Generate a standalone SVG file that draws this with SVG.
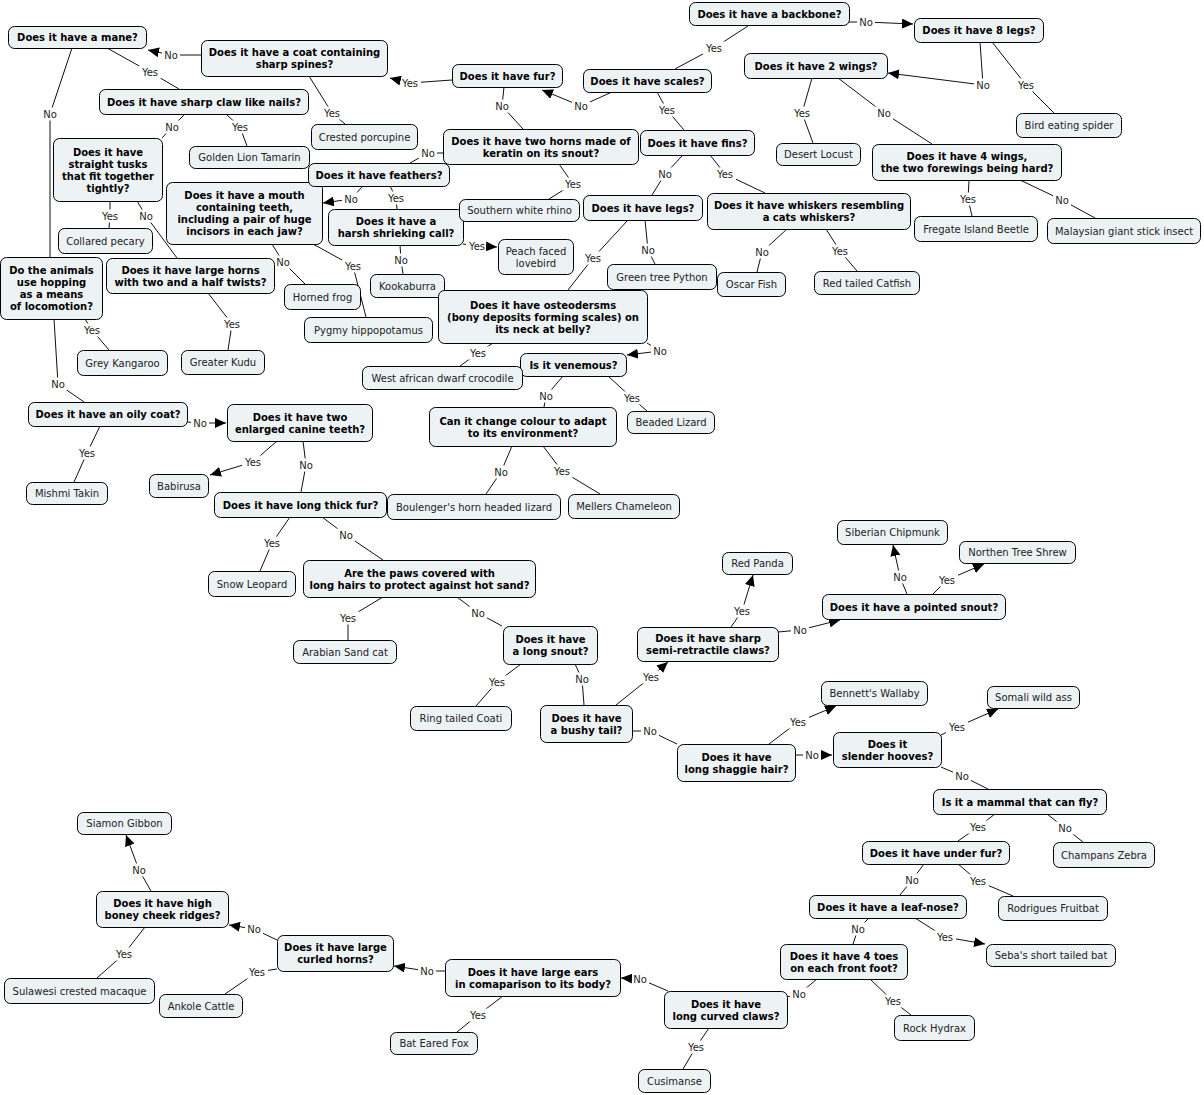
<svg xmlns="http://www.w3.org/2000/svg" width="1204" height="1095" viewBox="0 0 1204 1095">
<style>
.n rect{fill:#edf2f5;stroke:#000;stroke-width:1}
.n text{font-family:"DejaVu Sans",Verdana,sans-serif;font-size:10px;text-anchor:middle;fill:#000}
.q text{font-weight:bold}
.a text{fill:#222}
.c path.l{fill:none;stroke:#111;stroke-width:1}
.c path.h{fill:none;stroke:none}
.c rect{fill:#fff}
.c text{font-family:"DejaVu Sans",Verdana,sans-serif;font-size:10px;text-anchor:middle;fill:#222}
</style>
<defs>
<marker id="arr" viewBox="0 0 11 10" refX="11" refY="5" markerWidth="11" markerHeight="10" markerUnits="userSpaceOnUse" orient="auto"><path d="M0,0 L11,5 L0,10 z" fill="#000"/></marker>
</defs>
<rect width="1204" height="1095" fill="#fff"/>
<g id="connectors">
<g class="c"><path class="l" d="M849,22 L866,22 L913,24"/><rect x="857" y="15.5" width="18" height="13"/><text x="866" y="25.5">No</text><path class="h" d="M866,22 L913,24" marker-end="url(#arr)"/></g>
<g class="c"><path class="l" d="M748,26 L714,48 L675,69"/><rect x="703" y="41.5" width="22" height="13"/><text x="714" y="51.5">Yes</text></g>
<g class="c"><path class="l" d="M980,42 L983,85 L888,73"/><rect x="974" y="78.5" width="18" height="13"/><text x="983" y="88.5">No</text><path class="h" d="M983,85 L888,73" marker-end="url(#arr)"/></g>
<g class="c"><path class="l" d="M992,42 L1026,85 L1054,113"/><rect x="1015" y="78.5" width="22" height="13"/><text x="1026" y="88.5">Yes</text></g>
<g class="c"><path class="l" d="M812,78 L802,113 L813,143"/><rect x="791" y="106.5" width="22" height="13"/><text x="802" y="116.5">Yes</text></g>
<g class="c"><path class="l" d="M838,78 L884,113 L932,144"/><rect x="875" y="106.5" width="18" height="13"/><text x="884" y="116.5">No</text></g>
<g class="c"><path class="l" d="M969,180 L968,199 L972,216"/><rect x="957" y="192.5" width="22" height="13"/><text x="968" y="202.5">Yes</text></g>
<g class="c"><path class="l" d="M1020,180 L1062,200 L1095,218"/><rect x="1053" y="193.5" width="18" height="13"/><text x="1062" y="203.5">No</text></g>
<g class="c"><path class="l" d="M612,92 L581,106 L542,90"/><rect x="572" y="99.5" width="18" height="13"/><text x="581" y="109.5">No</text><path class="h" d="M581,106 L542,90" marker-end="url(#arr)"/></g>
<g class="c"><path class="l" d="M452,80 L410,83 L390,78"/><rect x="399" y="76.5" width="22" height="13"/><text x="410" y="86.5">Yes</text><path class="h" d="M410,83 L390,78" marker-end="url(#arr)"/></g>
<g class="c"><path class="l" d="M504,87 L502,106 L523,129"/><rect x="493" y="99.5" width="18" height="13"/><text x="502" y="109.5">No</text></g>
<g class="c"><path class="l" d="M443,153 L428,153 L410,163"/><rect x="419" y="146.5" width="18" height="13"/><text x="428" y="156.5">No</text></g>
<g class="c"><path class="l" d="M559,164 L573,184 L549,199"/><rect x="562" y="177.5" width="22" height="13"/><text x="573" y="187.5">Yes</text></g>
<g class="c"><path class="l" d="M201,55 L171,55 L148,50"/><rect x="162" y="48.5" width="18" height="13"/><text x="171" y="58.5">No</text><path class="h" d="M171,55 L148,50" marker-end="url(#arr)"/></g>
<g class="c"><path class="l" d="M309,76 L332,113 L345,124"/><rect x="321" y="106.5" width="22" height="13"/><text x="332" y="116.5">Yes</text></g>
<g class="c"><path class="l" d="M107,48 L150,72 L179,89"/><rect x="139" y="65.5" width="22" height="13"/><text x="150" y="75.5">Yes</text></g>
<g class="c"><path class="l" d="M72,48 L50,114 L50,257"/><rect x="41" y="107.5" width="18" height="13"/><text x="50" y="117.5">No</text></g>
<g class="c"><path class="l" d="M185,114 L172,127 L162,138"/><rect x="163" y="120.5" width="18" height="13"/><text x="172" y="130.5">No</text></g>
<g class="c"><path class="l" d="M226,114 L240,127 L247,146"/><rect x="229" y="120.5" width="22" height="13"/><text x="240" y="130.5">Yes</text></g>
<g class="c"><path class="l" d="M110,201 L110,216 L109,228"/><rect x="99" y="209.5" width="22" height="13"/><text x="110" y="219.5">Yes</text></g>
<g class="c"><path class="l" d="M137,201 L146,216 L177,258"/><rect x="137" y="209.5" width="18" height="13"/><text x="146" y="219.5">No</text></g>
<g class="c"><path class="l" d="M208,293 L232,324 L228,350"/><rect x="221" y="317.5" width="22" height="13"/><text x="232" y="327.5">Yes</text></g>
<g class="c"><path class="l" d="M85,319 L92,330 L109,350"/><rect x="81" y="323.5" width="22" height="13"/><text x="92" y="333.5">Yes</text></g>
<g class="c"><path class="l" d="M54,319 L58,384 L84,402"/><rect x="49" y="377.5" width="18" height="13"/><text x="58" y="387.5">No</text></g>
<g class="c"><path class="l" d="M187,422 L200,423 L226,423"/><rect x="191" y="416.5" width="18" height="13"/><text x="200" y="426.5">No</text><path class="h" d="M200,423 L226,423" marker-end="url(#arr)"/></g>
<g class="c"><path class="l" d="M100,426 L87,453 L74,482"/><rect x="76" y="446.5" width="22" height="13"/><text x="87" y="456.5">Yes</text></g>
<g class="c"><path class="l" d="M277,441 L253,462 L210,475"/><rect x="242" y="455.5" width="22" height="13"/><text x="253" y="465.5">Yes</text><path class="h" d="M253,462 L210,475" marker-end="url(#arr)"/></g>
<g class="c"><path class="l" d="M303,441 L306,465 L301,492"/><rect x="297" y="458.5" width="18" height="13"/><text x="306" y="468.5">No</text></g>
<g class="c"><path class="l" d="M290,517 L272,543 L260,571"/><rect x="261" y="536.5" width="22" height="13"/><text x="272" y="546.5">Yes</text></g>
<g class="c"><path class="l" d="M322,517 L346,535 L383,560"/><rect x="337" y="528.5" width="18" height="13"/><text x="346" y="538.5">No</text></g>
<g class="c"><path class="l" d="M383,597 L348,618 L348,640"/><rect x="337" y="611.5" width="22" height="13"/><text x="348" y="621.5">Yes</text></g>
<g class="c"><path class="l" d="M457,597 L478,613 L502,626"/><rect x="469" y="606.5" width="18" height="13"/><text x="478" y="616.5">No</text></g>
<g class="c"><path class="l" d="M521,664 L497,682 L476,706"/><rect x="486" y="675.5" width="22" height="13"/><text x="497" y="685.5">Yes</text></g>
<g class="c"><path class="l" d="M575,664 L582,679 L584,705"/><rect x="573" y="672.5" width="18" height="13"/><text x="582" y="682.5">No</text></g>
<g class="c"><path class="l" d="M616,705 L651,677 L668,662"/><rect x="640" y="670.5" width="22" height="13"/><text x="651" y="680.5">Yes</text><path class="h" d="M651,677 L668,662" marker-end="url(#arr)"/></g>
<g class="c"><path class="l" d="M632,731 L650,731 L677,744"/><rect x="641" y="724.5" width="18" height="13"/><text x="650" y="734.5">No</text></g>
<g class="c"><path class="l" d="M731,627 L742,611 L753,575"/><rect x="731" y="604.5" width="22" height="13"/><text x="742" y="614.5">Yes</text><path class="h" d="M742,611 L753,575" marker-end="url(#arr)"/></g>
<g class="c"><path class="l" d="M778,632 L800,630 L840,620"/><rect x="791" y="623.5" width="18" height="13"/><text x="800" y="633.5">No</text><path class="h" d="M800,630 L840,620" marker-end="url(#arr)"/></g>
<g class="c"><path class="l" d="M907,594 L900,577 L893,545"/><rect x="891" y="570.5" width="18" height="13"/><text x="900" y="580.5">No</text><path class="h" d="M900,577 L893,545" marker-end="url(#arr)"/></g>
<g class="c"><path class="l" d="M933,594 L947,580 L984,564"/><rect x="936" y="573.5" width="22" height="13"/><text x="947" y="583.5">Yes</text><path class="h" d="M947,580 L984,564" marker-end="url(#arr)"/></g>
<g class="c"><path class="l" d="M769,744 L798,722 L836,706"/><rect x="787" y="715.5" width="22" height="13"/><text x="798" y="725.5">Yes</text><path class="h" d="M798,722 L836,706" marker-end="url(#arr)"/></g>
<g class="c"><path class="l" d="M795,755 L812,755 L832,755"/><rect x="803" y="748.5" width="18" height="13"/><text x="812" y="758.5">No</text><path class="h" d="M812,755 L832,755" marker-end="url(#arr)"/></g>
<g class="c"><path class="l" d="M941,735 L957,727 L998,709"/><rect x="946" y="720.5" width="22" height="13"/><text x="957" y="730.5">Yes</text><path class="h" d="M957,727 L998,709" marker-end="url(#arr)"/></g>
<g class="c"><path class="l" d="M941,767 L962,776 L988,789"/><rect x="953" y="769.5" width="18" height="13"/><text x="962" y="779.5">No</text></g>
<g class="c"><path class="l" d="M995,814 L978,827 L958,841"/><rect x="967" y="820.5" width="22" height="13"/><text x="978" y="830.5">Yes</text></g>
<g class="c"><path class="l" d="M1047,814 L1065,828 L1083,842"/><rect x="1056" y="821.5" width="18" height="13"/><text x="1065" y="831.5">No</text></g>
<g class="c"><path class="l" d="M924,864 L912,880 L900,895"/><rect x="903" y="873.5" width="18" height="13"/><text x="912" y="883.5">No</text></g>
<g class="c"><path class="l" d="M958,864 L978,881 L1013,896"/><rect x="967" y="874.5" width="22" height="13"/><text x="978" y="884.5">Yes</text></g>
<g class="c"><path class="l" d="M915,918 L945,937 L985,944"/><rect x="934" y="930.5" width="22" height="13"/><text x="945" y="940.5">Yes</text><path class="h" d="M945,937 L985,944" marker-end="url(#arr)"/></g>
<g class="c"><path class="l" d="M869,918 L858,929 L853,944"/><rect x="849" y="922.5" width="18" height="13"/><text x="858" y="932.5">No</text></g>
<g class="c"><path class="l" d="M870,979 L893,1001 L911,1015"/><rect x="882" y="994.5" width="22" height="13"/><text x="893" y="1004.5">Yes</text></g>
<g class="c"><path class="l" d="M817,979 L799,994 L787,997"/><rect x="790" y="987.5" width="18" height="13"/><text x="799" y="997.5">No</text></g>
<g class="c"><path class="l" d="M668,991 L640,979 L621,978"/><rect x="631" y="972.5" width="18" height="13"/><text x="640" y="982.5">No</text><path class="h" d="M640,979 L621,978" marker-end="url(#arr)"/></g>
<g class="c"><path class="l" d="M709,1028 L696,1047 L683,1069"/><rect x="685" y="1040.5" width="22" height="13"/><text x="696" y="1050.5">Yes</text></g>
<g class="c"><path class="l" d="M445,971 L427,971 L394,966"/><rect x="418" y="964.5" width="18" height="13"/><text x="427" y="974.5">No</text><path class="h" d="M427,971 L394,966" marker-end="url(#arr)"/></g>
<g class="c"><path class="l" d="M503,996 L478,1015 L457,1032"/><rect x="467" y="1008.5" width="22" height="13"/><text x="478" y="1018.5">Yes</text></g>
<g class="c"><path class="l" d="M277,940 L254,929 L229,925"/><rect x="245" y="922.5" width="18" height="13"/><text x="254" y="932.5">No</text><path class="h" d="M254,929 L229,925" marker-end="url(#arr)"/></g>
<g class="c"><path class="l" d="M277,969 L257,972 L225,994"/><rect x="246" y="965.5" width="22" height="13"/><text x="257" y="975.5">Yes</text></g>
<g class="c"><path class="l" d="M151,891 L139,870 L126,835"/><rect x="130" y="863.5" width="18" height="13"/><text x="139" y="873.5">No</text><path class="h" d="M139,870 L126,835" marker-end="url(#arr)"/></g>
<g class="c"><path class="l" d="M145,927 L124,954 L97,978"/><rect x="113" y="947.5" width="22" height="13"/><text x="124" y="957.5">Yes</text></g>
<g class="c"><path class="l" d="M363,186 L351,199 L323,203"/><rect x="342" y="192.5" width="18" height="13"/><text x="351" y="202.5">No</text><path class="h" d="M351,199 L323,203" marker-end="url(#arr)"/></g>
<g class="c"><path class="l" d="M390,186 L396,198 L397,209"/><rect x="385" y="191.5" width="22" height="13"/><text x="396" y="201.5">Yes</text></g>
<g class="c"><path class="l" d="M463,244 L477,246 L497,247"/><rect x="466" y="239.5" width="22" height="13"/><text x="477" y="249.5">Yes</text><path class="h" d="M477,246 L497,247" marker-end="url(#arr)"/></g>
<g class="c"><path class="l" d="M400,245 L401,260 L403,274"/><rect x="392" y="253.5" width="18" height="13"/><text x="401" y="263.5">No</text></g>
<g class="c"><path class="l" d="M272,244 L283,262 L305,284"/><rect x="274" y="255.5" width="18" height="13"/><text x="283" y="265.5">No</text></g>
<g class="c"><path class="l" d="M313,244 L353,266 L366,317"/><rect x="342" y="259.5" width="22" height="13"/><text x="353" y="269.5">Yes</text></g>
<g class="c"><path class="l" d="M628,220 L593,258 L568,290"/><rect x="582" y="251.5" width="22" height="13"/><text x="593" y="261.5">Yes</text></g>
<g class="c"><path class="l" d="M645,220 L648,250 L655,264"/><rect x="639" y="243.5" width="18" height="13"/><text x="648" y="253.5">No</text></g>
<g class="c"><path class="l" d="M683,155 L665,174 L652,195"/><rect x="656" y="167.5" width="18" height="13"/><text x="665" y="177.5">No</text></g>
<g class="c"><path class="l" d="M710,155 L725,174 L765,193"/><rect x="714" y="167.5" width="22" height="13"/><text x="725" y="177.5">Yes</text></g>
<g class="c"><path class="l" d="M787,229 L762,252 L757,272"/><rect x="753" y="245.5" width="18" height="13"/><text x="762" y="255.5">No</text></g>
<g class="c"><path class="l" d="M826,229 L840,251 L857,271"/><rect x="829" y="244.5" width="22" height="13"/><text x="840" y="254.5">Yes</text></g>
<g class="c"><path class="l" d="M657,92 L667,110 L684,130"/><rect x="656" y="103.5" width="22" height="13"/><text x="667" y="113.5">Yes</text></g>
<g class="c"><path class="l" d="M647,343 L660,351 L627,355"/><rect x="651" y="344.5" width="18" height="13"/><text x="660" y="354.5">No</text><path class="h" d="M660,351 L627,355" marker-end="url(#arr)"/></g>
<g class="c"><path class="l" d="M493,343 L478,353 L460,366"/><rect x="467" y="346.5" width="22" height="13"/><text x="478" y="356.5">Yes</text></g>
<g class="c"><path class="l" d="M563,376 L546,396 L544,407"/><rect x="537" y="389.5" width="18" height="13"/><text x="546" y="399.5">No</text></g>
<g class="c"><path class="l" d="M608,376 L632,398 L647,411"/><rect x="621" y="391.5" width="22" height="13"/><text x="632" y="401.5">Yes</text></g>
<g class="c"><path class="l" d="M512,446 L501,472 L486,494"/><rect x="492" y="465.5" width="18" height="13"/><text x="501" y="475.5">No</text></g>
<g class="c"><path class="l" d="M543,446 L562,471 L600,494"/><rect x="551" y="464.5" width="22" height="13"/><text x="562" y="474.5">Yes</text></g>
</g>
<g id="nodes">
<g id="n-backbone" class="n q"><rect x="689.5" y="2.5" width="160" height="23" rx="6"/><text x="769.5" y="17.6">Does it have a backbone?</text></g>
<g id="n-8legs" class="n q"><rect x="914.5" y="18.5" width="129" height="24" rx="6"/><text x="979" y="34.1">Does it have 8 legs?</text></g>
<g id="n-2wings" class="n q"><rect x="744.5" y="53.5" width="143" height="25" rx="6"/><text x="816" y="69.6">Does it have 2 wings?</text></g>
<g id="n-spider" class="n a"><rect x="1016.5" y="113.5" width="105" height="24" rx="6"/><text x="1069" y="129.1">Bird eating spider</text></g>
<g id="n-locust" class="n a"><rect x="776.5" y="143.5" width="84" height="22" rx="6"/><text x="818.5" y="158.1">Desert Locust</text></g>
<g id="n-4wings" class="n q"><rect x="872.5" y="144.5" width="189" height="36" rx="6"/><text x="967" y="160.1"><tspan x="967" y="160.1">Does it have 4 wings,</tspan><tspan x="967" y="172.1">the two forewings being hard?</tspan></text></g>
<g id="n-fregate" class="n a"><rect x="914.5" y="216.5" width="123" height="25" rx="6"/><text x="976" y="232.6">Fregate Island Beetle</text></g>
<g id="n-stick" class="n a"><rect x="1047.5" y="218.5" width="153" height="25" rx="6"/><text x="1124" y="234.6">Malaysian giant stick insect</text></g>
<g id="n-scales" class="n q"><rect x="583.5" y="69.5" width="128" height="23" rx="6"/><text x="647.5" y="84.6">Does it have scales?</text></g>
<g id="n-fur" class="n q"><rect x="452.5" y="64.5" width="110" height="23" rx="6"/><text x="507.5" y="79.6">Does it have fur?</text></g>
<g id="n-fins" class="n q"><rect x="640.5" y="130.5" width="114" height="25" rx="6"/><text x="697.5" y="146.6">Does it have fins?</text></g>
<g id="n-horns" class="n q"><rect x="443.5" y="129.5" width="195" height="35" rx="6"/><text x="541" y="144.6"><tspan x="541" y="144.6">Does it have two horns made of</tspan><tspan x="541" y="156.6">keratin on its snout?</tspan></text></g>
<g id="n-spines" class="n q"><rect x="201.5" y="40.5" width="186" height="36" rx="6"/><text x="294.5" y="56.1"><tspan x="294.5" y="56.1">Does it have a coat containing</tspan><tspan x="294.5" y="68.1">sharp spines?</tspan></text></g>
<g id="n-mane" class="n q"><rect x="8.5" y="26.5" width="138" height="22" rx="6"/><text x="77.5" y="41.1">Does it have a mane?</text></g>
<g id="n-claw" class="n q"><rect x="99.5" y="89.5" width="209" height="25" rx="6"/><text x="204" y="105.6">Does it have sharp claw like nails?</text></g>
<g id="n-porcupine" class="n a"><rect x="311.5" y="124.5" width="106" height="25" rx="6"/><text x="364.5" y="140.6">Crested porcupine</text></g>
<g id="n-tamarin" class="n a"><rect x="189.5" y="146.5" width="120" height="22" rx="6"/><text x="249.5" y="161.1">Golden Lion Tamarin</text></g>
<g id="n-tusks" class="n q"><rect x="53.5" y="138.5" width="109" height="63" rx="6"/><text x="108" y="155.6"><tspan x="108" y="155.6">Does it have</tspan><tspan x="108" y="167.6">straight tusks</tspan><tspan x="108" y="179.6">that fit together</tspan><tspan x="108" y="191.6">tightly?</tspan></text></g>
<g id="n-pecary" class="n a"><rect x="58.5" y="228.5" width="94" height="25" rx="6"/><text x="105.5" y="244.6">Collared pecary</text></g>
<g id="n-teeth" class="n q"><rect x="166.5" y="182.5" width="156" height="62" rx="6"/><text x="244.5" y="199.1"><tspan x="244.5" y="199.1">Does it have a mouth</tspan><tspan x="244.5" y="211.1">containing teeth,</tspan><tspan x="244.5" y="223.1">including a pair of huge</tspan><tspan x="244.5" y="235.1">incisors in each jaw?</tspan></text></g>
<g id="n-feathers" class="n q"><rect x="308.5" y="163.5" width="141" height="23" rx="6"/><text x="379" y="178.6">Does it have feathers?</text></g>
<g id="n-shriek" class="n q"><rect x="328.5" y="209.5" width="135" height="36" rx="6"/><text x="396" y="225.1"><tspan x="396" y="225.1">Does it have a</tspan><tspan x="396" y="237.1">harsh shrieking call?</tspan></text></g>
<g id="n-rhino" class="n a"><rect x="459.5" y="199.5" width="120" height="22" rx="6"/><text x="519.5" y="214.1">Southern white rhino</text></g>
<g id="n-lovebird" class="n a"><rect x="498.5" y="239.5" width="75" height="35" rx="6"/><text x="536" y="254.6"><tspan x="536" y="254.6">Peach faced</tspan><tspan x="536" y="266.6">lovebird</tspan></text></g>
<g id="n-kookaburra" class="n a"><rect x="370.5" y="274.5" width="74" height="23" rx="6"/><text x="407.5" y="289.6">Kookaburra</text></g>
<g id="n-frog" class="n a"><rect x="284.5" y="284.5" width="76" height="25" rx="6"/><text x="322.5" y="300.6">Horned frog</text></g>
<g id="n-hippo" class="n a"><rect x="304.5" y="317.5" width="128" height="25" rx="6"/><text x="368.5" y="333.6">Pygmy hippopotamus</text></g>
<g id="n-legs" class="n q"><rect x="583.5" y="195.5" width="119" height="25" rx="6"/><text x="643" y="211.6">Does it have legs?</text></g>
<g id="n-whiskers" class="n q"><rect x="707.5" y="193.5" width="203" height="36" rx="6"/><text x="809" y="209.1"><tspan x="809" y="209.1">Does it have whiskers resembling</tspan><tspan x="809" y="221.1">a cats whiskers?</tspan></text></g>
<g id="n-python" class="n a"><rect x="607.5" y="264.5" width="109" height="25" rx="6"/><text x="662" y="280.6">Green tree Python</text></g>
<g id="n-oscar" class="n a"><rect x="717.5" y="272.5" width="68" height="24" rx="6"/><text x="751.5" y="288.1">Oscar Fish</text></g>
<g id="n-catfish" class="n a"><rect x="814.5" y="271.5" width="105" height="23" rx="6"/><text x="867" y="286.6">Red tailed Catfish</text></g>
<g id="n-osteo" class="n q"><rect x="438.5" y="290.5" width="209" height="53" rx="6"/><text x="543" y="308.6"><tspan x="543" y="308.6">Does it have osteodersms</tspan><tspan x="543" y="320.6">(bony deposits forming scales) on</tspan><tspan x="543" y="332.6">its neck at belly?</tspan></text></g>
<g id="n-venom" class="n q"><rect x="520.5" y="353.5" width="106" height="23" rx="6"/><text x="573.5" y="368.6">Is it venemous?</text></g>
<g id="n-croc" class="n a"><rect x="362.5" y="366.5" width="160" height="23" rx="6"/><text x="442.5" y="381.6">West african dwarf crocodile</text></g>
<g id="n-beaded" class="n a"><rect x="627.5" y="411.5" width="87" height="22" rx="6"/><text x="671" y="426.1">Beaded Lizard</text></g>
<g id="n-colour" class="n q"><rect x="429.5" y="407.5" width="187" height="39" rx="6"/><text x="523" y="424.6"><tspan x="523" y="424.6">Can it change colour to adapt</tspan><tspan x="523" y="436.6">to its environment?</tspan></text></g>
<g id="n-boulenger" class="n a"><rect x="387.5" y="494.5" width="173" height="25" rx="6"/><text x="474" y="510.6">Boulenger's horn headed lizard</text></g>
<g id="n-mellers" class="n a"><rect x="568.5" y="494.5" width="111" height="24" rx="6"/><text x="624" y="510.1">Mellers Chameleon</text></g>
<g id="n-canine" class="n q"><rect x="227.5" y="404.5" width="145" height="37" rx="6"/><text x="300" y="420.6"><tspan x="300" y="420.6">Does it have two</tspan><tspan x="300" y="432.6">enlarged canine teeth?</tspan></text></g>
<g id="n-oily" class="n q"><rect x="28.5" y="402.5" width="159" height="24" rx="6"/><text x="108" y="418.1">Does it have an oily coat?</text></g>
<g id="n-hopping" class="n q"><rect x="0.5" y="257.5" width="102" height="62" rx="6"/><text x="51.5" y="274.1"><tspan x="51.5" y="274.1">Do the animals</tspan><tspan x="51.5" y="286.1">use hopping</tspan><tspan x="51.5" y="298.1">as a means</tspan><tspan x="51.5" y="310.1">of locomotion?</tspan></text></g>
<g id="n-twists" class="n q"><rect x="106.5" y="258.5" width="168" height="35" rx="6"/><text x="190.5" y="273.6"><tspan x="190.5" y="273.6">Does it have large horns</tspan><tspan x="190.5" y="285.6">with two and a half twists?</tspan></text></g>
<g id="n-kangaroo" class="n a"><rect x="77.5" y="350.5" width="90" height="25" rx="6"/><text x="122.5" y="366.6">Grey Kangaroo</text></g>
<g id="n-kudu" class="n a"><rect x="181.5" y="350.5" width="83" height="24" rx="6"/><text x="223" y="366.1">Greater Kudu</text></g>
<g id="n-takin" class="n a"><rect x="26.5" y="482.5" width="81" height="22" rx="6"/><text x="67" y="497.1">Mishmi Takin</text></g>
<g id="n-babirusa" class="n a"><rect x="149.5" y="474.5" width="59" height="23" rx="6"/><text x="179" y="489.6">Babirusa</text></g>
<g id="n-thickfur" class="n q"><rect x="214.5" y="492.5" width="172" height="25" rx="6"/><text x="300.5" y="508.6">Does it have long thick fur?</text></g>
<g id="n-leopard" class="n a"><rect x="208.5" y="571.5" width="87" height="25" rx="6"/><text x="252" y="587.6">Snow Leopard</text></g>
<g id="n-paws" class="n q"><rect x="303.5" y="560.5" width="232" height="37" rx="6"/><text x="419.5" y="576.6"><tspan x="419.5" y="576.6">Are the paws covered with</tspan><tspan x="419.5" y="588.6">long hairs to protect against hot sand?</tspan></text></g>
<g id="n-sandcat" class="n a"><rect x="293.5" y="640.5" width="103" height="23" rx="6"/><text x="345" y="655.6">Arabian Sand cat</text></g>
<g id="n-longsnout" class="n q"><rect x="503.5" y="626.5" width="94" height="38" rx="6"/><text x="550.5" y="643.1"><tspan x="550.5" y="643.1">Does it have</tspan><tspan x="550.5" y="655.1">a long snout?</tspan></text></g>
<g id="n-coati" class="n a"><rect x="410.5" y="706.5" width="101" height="24" rx="6"/><text x="461" y="722.1">Ring tailed Coati</text></g>
<g id="n-bushy" class="n q"><rect x="540.5" y="705.5" width="92" height="37" rx="6"/><text x="586.5" y="721.6"><tspan x="586.5" y="721.6">Does it have</tspan><tspan x="586.5" y="733.6">a bushy tail?</tspan></text></g>
<g id="n-semi" class="n q"><rect x="637.5" y="627.5" width="141" height="34" rx="6"/><text x="708" y="642.1"><tspan x="708" y="642.1">Does it have sharp</tspan><tspan x="708" y="654.1">semi-retractile claws?</tspan></text></g>
<g id="n-panda" class="n a"><rect x="722.5" y="552.5" width="70" height="22" rx="6"/><text x="757.5" y="567.1">Red Panda</text></g>
<g id="n-pointed" class="n q"><rect x="822.5" y="594.5" width="183" height="25" rx="6"/><text x="914" y="610.6">Does it have a pointed snout?</text></g>
<g id="n-chipmunk" class="n a"><rect x="837.5" y="520.5" width="110" height="24" rx="6"/><text x="892.5" y="536.1">Siberian Chipmunk</text></g>
<g id="n-shrew" class="n a"><rect x="959.5" y="541.5" width="116" height="22" rx="6"/><text x="1017.5" y="556.1">Northen Tree Shrew</text></g>
<g id="n-wallaby" class="n a"><rect x="821.5" y="681.5" width="106" height="24" rx="6"/><text x="874.5" y="697.1">Bennett's Wallaby</text></g>
<g id="n-ass" class="n a"><rect x="987.5" y="686.5" width="92" height="22" rx="6"/><text x="1033.5" y="701.1">Somali wild ass</text></g>
<g id="n-shaggie" class="n q"><rect x="677.5" y="744.5" width="118" height="37" rx="6"/><text x="736.5" y="760.6"><tspan x="736.5" y="760.6">Does it have</tspan><tspan x="736.5" y="772.6">long shaggie hair?</tspan></text></g>
<g id="n-hooves" class="n q"><rect x="833.5" y="732.5" width="108" height="35" rx="6"/><text x="887.5" y="747.6"><tspan x="887.5" y="747.6">Does it</tspan><tspan x="887.5" y="759.6">slender hooves?</tspan></text></g>
<g id="n-fly" class="n q"><rect x="933.5" y="789.5" width="173" height="25" rx="6"/><text x="1020" y="805.6">Is it a mammal that can fly?</text></g>
<g id="n-zebra" class="n a"><rect x="1053.5" y="842.5" width="101" height="25" rx="6"/><text x="1104" y="858.6">Champans Zebra</text></g>
<g id="n-underfur" class="n q"><rect x="862.5" y="841.5" width="147" height="23" rx="6"/><text x="936" y="856.6">Does it have under fur?</text></g>
<g id="n-fruitbat" class="n a"><rect x="998.5" y="896.5" width="109" height="24" rx="6"/><text x="1053" y="912.1">Rodrigues Fruitbat</text></g>
<g id="n-leafnose" class="n q"><rect x="809.5" y="895.5" width="157" height="23" rx="6"/><text x="888" y="910.6">Does it have a leaf-nose?</text></g>
<g id="n-seba" class="n a"><rect x="986.5" y="944.5" width="129" height="22" rx="6"/><text x="1051" y="959.1">Seba's short tailed bat</text></g>
<g id="n-4toes" class="n q"><rect x="780.5" y="944.5" width="127" height="35" rx="6"/><text x="844" y="959.6"><tspan x="844" y="959.6">Does it have 4 toes</tspan><tspan x="844" y="971.6">on each front foot?</tspan></text></g>
<g id="n-hydrax" class="n a"><rect x="894.5" y="1015.5" width="80" height="25" rx="6"/><text x="934.5" y="1031.6">Rock Hydrax</text></g>
<g id="n-curved" class="n q"><rect x="664.5" y="991.5" width="123" height="37" rx="6"/><text x="726" y="1007.6"><tspan x="726" y="1007.6">Does it have</tspan><tspan x="726" y="1019.6">long curved claws?</tspan></text></g>
<g id="n-cusimanse" class="n a"><rect x="638.5" y="1069.5" width="72" height="23" rx="6"/><text x="674.5" y="1084.6">Cusimanse</text></g>
<g id="n-ears" class="n q"><rect x="445.5" y="959.5" width="175" height="37" rx="6"/><text x="533" y="975.6"><tspan x="533" y="975.6">Does it have large ears</tspan><tspan x="533" y="987.6">in comaparison to its body?</tspan></text></g>
<g id="n-fox" class="n a"><rect x="390.5" y="1032.5" width="87" height="22" rx="6"/><text x="434" y="1047.1">Bat Eared Fox</text></g>
<g id="n-curled" class="n q"><rect x="277.5" y="935.5" width="116" height="36" rx="6"/><text x="335.5" y="951.1"><tspan x="335.5" y="951.1">Does it have large</tspan><tspan x="335.5" y="963.1">curled horns?</tspan></text></g>
<g id="n-cheek" class="n q"><rect x="96.5" y="891.5" width="132" height="36" rx="6"/><text x="162.5" y="907.1"><tspan x="162.5" y="907.1">Does it have high</tspan><tspan x="162.5" y="919.1">boney cheek ridges?</tspan></text></g>
<g id="n-gibbon" class="n a"><rect x="77.5" y="812.5" width="94" height="22" rx="6"/><text x="124.5" y="827.1">Siamon Gibbon</text></g>
<g id="n-macaque" class="n a"><rect x="4.5" y="978.5" width="150" height="25" rx="6"/><text x="79.5" y="994.6">Sulawesi crested macaque</text></g>
<g id="n-ankole" class="n a"><rect x="159.5" y="994.5" width="83" height="23" rx="6"/><text x="201" y="1009.6">Ankole Cattle</text></g>
</g>
</svg>
